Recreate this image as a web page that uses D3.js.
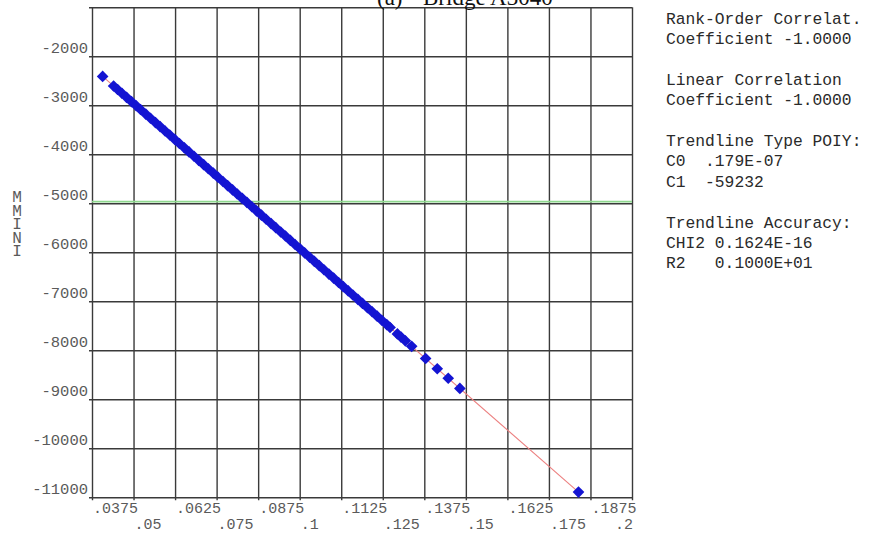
<!DOCTYPE html>
<html><head><meta charset="utf-8">
<script src="https://cdn.jsdelivr.net/npm/d3@7"></script>
<style>body{margin:0;background:#fff}svg{display:block}</style>
</head><body>
<script>
// ---- data ----
const titleTag = "(a)";
const titleText = "Bridge A3040";
const yLabel = ["M","M","I","N","I"];
const xTickValues = [0.0375,0.05,0.0625,0.075,0.0875,0.1,0.1125,0.125,0.1375,0.15,0.1625,0.175,0.1875,0.2];
const xTickLabels = [".0375",".05",".0625",".075",".0875",".1",".1125",".125",".1375",".15",".1625",".175",".1875",".2"];
const yTickValues = [-1000,-2000,-3000,-4000,-5000,-6000,-7000,-8000,-9000,-10000,-11000];
const yTickLabels = ["","-2000","-3000","-4000","-5000","-6000","-7000","-8000","-9000","-10000","-11000"];
const pointX = [0.0407,0.0440,0.0452,0.0465,0.0479,0.0494,0.0508,0.0521,0.0537,0.0551,0.0566,0.0580,0.0595,0.0609,0.0624,0.0638,0.0653,0.0667,0.0682,0.0696,0.0711,0.0725,0.0740,0.0754,0.0769,0.0783,0.0798,0.0812,0.0827,0.0841,0.0856,0.0870,0.0885,0.0899,0.0914,0.0928,0.0943,0.0957,0.0972,0.0986,0.1001,0.1015,0.1030,0.1044,0.1059,0.1073,0.1088,0.1102,0.1117,0.1131,0.1146,0.1160,0.1175,0.1189,0.1204,0.1218,0.1233,0.1247,0.1262,0.1272,0.1294,0.1305,0.1318,0.1337,0.1379,0.1414,0.1447,0.1482,0.1839];
const pointY = [-2411,-2606,-2677,-2754,-2837,-2926,-3009,-3086,-3181,-3264,-3353,-3435,-3524,-3607,-3696,-3779,-3868,-3951,-4040,-4123,-4211,-4294,-4383,-4466,-4555,-4638,-4727,-4810,-4898,-4981,-5070,-5153,-5242,-5325,-5414,-5497,-5586,-5668,-5757,-5840,-5929,-6012,-6101,-6184,-6273,-6356,-6444,-6527,-6616,-6699,-6788,-6871,-6960,-7043,-7131,-7214,-7303,-7386,-7475,-7534,-7665,-7730,-7807,-7919,-8168,-8376,-8571,-8778,-10893];
const trendX = [0.0407,0.1839];
const trendY = [-2411,-10893];
const refLineY = -4965;
const panelLines = [
  ["Rank-Order Correlat.", 0],["Coefficient -1.0000", 1],
  ["Linear Correlation", 3],["Coefficient -1.0000", 4],
  ["Trendline Type POIY:", 6],["C0  .179E-07", 7],["C1  -59232", 8],
  ["Trendline Accuracy:", 10],["CHI2 0.1624E-16", 11],["R2   0.1000E+01", 12]
];

// ---- drawing ----
const W = 878, H = 538;
const L = 92, R = 632, T = 7.3, B = 497.3;
const svg = d3.select("body").append("svg").attr("width", W).attr("height", H);
svg.append("rect").attr("width", W).attr("height", H).attr("fill", "#fff");

const x = d3.scaleLinear().domain([0.0375, 0.2]).range([L, R]);
const y = d3.scaleLinear().domain([-1000, -11000]).range([T, B]);

const mono = "'Liberation Mono', 'Courier New', monospace";
const gridColor = "#3a3a3a";

// grid via axes
const gx = svg.append("g").attr("transform", `translate(0,${B})`)
  .call(d3.axisBottom(x).tickValues(xTickValues).tickSize(-(B - T)).tickSizeOuter(0).tickFormat(""));
gx.select(".domain").remove();
gx.selectAll(".tick line").attr("stroke", gridColor).attr("stroke-width", 1.4).attr("y1", 3);
const gy = svg.append("g").attr("transform", `translate(${L},0)`)
  .call(d3.axisLeft(y).tickValues(yTickValues).tickSize(-(R - L)).tickSizeOuter(0).tickFormat(""));
gy.select(".domain").remove();
gy.selectAll(".tick line").attr("stroke", gridColor).attr("stroke-width", 1.4).attr("x1", -3);

// reference green line
svg.append("line").attr("x1", L).attr("x2", R).attr("y1", y(refLineY)).attr("y2", y(refLineY))
  .attr("stroke", "#8fd88f").attr("stroke-width", 1.7);

// y tick labels
svg.append("g").selectAll("text").data(yTickValues).join("text")
  .attr("x", 88).attr("y", d => y(d) - 3.5)
  .attr("text-anchor", "end").attr("font-family", mono).attr("font-size", 15.5)
  .attr("fill", "#5a5a5a")
  .text((d, i) => yTickLabels[i]);

// x tick labels (staggered)
svg.append("g").selectAll("text").data(xTickValues).join("text")
  .attr("x", (d, i) => i === xTickValues.length - 1 ? R + 1 : x(d) + 1)
  .attr("y", (d, i) => i % 2 === 0 ? 513 : 529)
  .attr("text-anchor", (d, i) => i === xTickValues.length - 1 ? "end" : "start")
  .attr("font-family", mono).attr("font-size", 15).attr("fill", "#5a5a5a")
  .text((d, i) => xTickLabels[i]);

// y axis title (stacked letters in one text element)
const yt = svg.append("text").attr("x", 17).attr("y", 202)
  .attr("text-anchor", "middle").attr("font-family", mono).attr("font-size", 16)
  .attr("fill", "#5a5a5a");
yt.selectAll("tspan").data(yLabel).join("tspan")
  .attr("x", 17).attr("dy", (d, i) => i === 0 ? 0 : 13.6).text(d => d);

// trend line
svg.append("path")
  .attr("d", d3.line().x(d => x(d[0])).y(d => y(d[1]))(d3.zip(trendX, trendY)))
  .attr("stroke", "#ec8080").attr("stroke-width", 1.1).attr("fill", "none");

// points (diamonds)
const sym = d3.symbol().type(d3.symbolSquare).size(68);
svg.append("g").selectAll("path").data(d3.zip(pointX, pointY)).join("path")
  .attr("transform", d => `translate(${x(d[0])},${y(d[1])}) rotate(45)`)
  .attr("d", sym).attr("fill", "#1414d2");

// title (partly cut at the top, as in the reference)
const serif = "'Liberation Serif', 'Times New Roman', serif";
svg.append("text").attr("x", 377).attr("y", 5)
  .attr("font-family", serif).attr("font-size", 23).attr("fill", "#111").text(titleTag);
svg.append("text").attr("x", 423).attr("y", 5)
  .attr("font-family", serif).attr("font-size", 23).attr("fill", "#111").text(titleText);

// right panel
svg.append("g").selectAll("text").data(panelLines).join("text")
  .attr("x", 666).attr("y", d => 24 + d[1] * 20.35)
  .attr("font-family", mono).attr("font-size", 16.3).attr("fill", "#2a2a2a")
  .style("white-space", "pre")
  .text(d => d[0]);
</script>
</body></html>
